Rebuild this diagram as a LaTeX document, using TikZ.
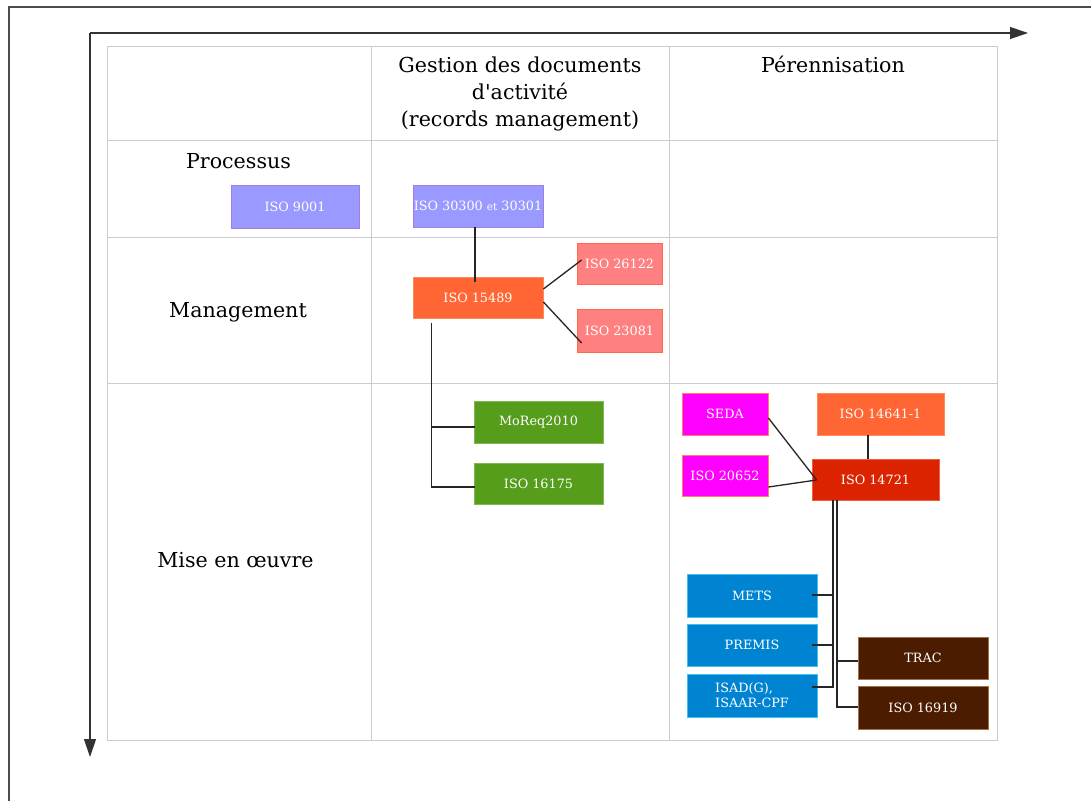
\documentclass[tikz,border=0pt]{standalone}
\usepackage{fontspec}
\setmainfont{DejaVu Serif}
\usetikzlibrary{arrows.meta,calc}
\definecolor{cviolet}{HTML}{9999FF}
\definecolor{cvioletb}{HTML}{A27EE0}
\definecolor{corange}{HTML}{FF6633}
\definecolor{corangeb}{HTML}{FF8A5C}
\definecolor{cpink}{HTML}{FF8080}
\definecolor{cpinkb}{HTML}{FF6A4A}
\definecolor{cgreen}{HTML}{579D1C}
\definecolor{cgreenb}{HTML}{80B850}
\definecolor{cmagenta}{HTML}{FF00FF}
\definecolor{cmagentab}{HTML}{FF8060}
\definecolor{cred}{HTML}{DC2300}
\definecolor{credb}{HTML}{F06040}
\definecolor{cblue}{HTML}{0084D1}
\definecolor{cblueb}{HTML}{40C0F0}
\definecolor{cbrown}{HTML}{4B1C00}
\definecolor{cbrownb}{HTML}{A0724A}
\definecolor{cgrid}{HTML}{CCCCCC}
\begin{document}
\begin{tikzpicture}[x=1pt,y=-1pt,
  bx/.style={draw, inner sep=0pt, text=white, font=\fontsize{12.8}{15}\selectfont, line width=0.8pt},
  violetbox/.style={bx, fill=cviolet, draw=cvioletb},
  orangebox/.style={bx, fill=corange, draw=corangeb},
  pinkbox/.style={bx, fill=cpink, draw=cpinkb},
  greenbox/.style={bx, fill=cgreen, draw=cgreenb},
  magentabox/.style={bx, fill=cmagenta, draw=cmagentab},
  redbox/.style={bx, fill=cred, draw=credb},
  bluebox/.style={bx, fill=cblue, draw=cblueb},
  brownbox/.style={bx, fill=cbrown, draw=cbrownb},
  conn/.style={draw=black!85, line width=1.3pt},
  lbl/.style={font=\fontsize{20.6}{24}\selectfont, inner sep=0pt, anchor=base},
  grid/.style={draw=cgrid, line width=1pt},
  axis/.style={draw=black!80, line width=1.2pt, -{Triangle[length=18pt,width=12pt]}}
]
\useasboundingbox (0,0) rectangle (1091,801);
\fill[white] (0,0) rectangle (1091,801);
% outer frame
\draw[draw=black!70, line width=1.2pt] (9,801) -- (9,7) -- (1091,7);
% axes
\coordinate (origin) at (90,33);
\coordinate (xend) at (1028,33);
\coordinate (yend) at (90,757);
\draw[axis] (origin) -- (xend);
\draw[axis] (origin) -- (yend);
% table grid
\draw[grid] (107,46) rectangle (997,740);
\draw[grid] (371,46) -- (371,740);
\draw[grid] (669,46) -- (669,740);
\draw[grid] (107,140) -- (997,140);
\draw[grid] (107,237) -- (997,237);
\draw[grid] (107,383) -- (997,383);
% headers
\node[lbl] (hA) at (520,72) {Gestion des documents};
\node[lbl] (hB) at (520,99) {d\textquotesingle activité};
\node[lbl] (hC) at (520,126) {(records management)};
\node[lbl] (hP) at (833,72) {Pérennisation};
\node[lbl] (rP) at (238.5,168) {Processus};
\node[lbl] (rM) at (238,317) {Management};
\node[lbl] (rO) at (235.5,567) {Mise en œuvre};
% boxes
\node[violetbox, minimum width=128pt, minimum height=43pt] (iso9001) at (295,206.5) {ISO 9001};
\node[violetbox, minimum width=130pt, minimum height=42pt] (iso30300) at (478,206) {ISO 30300 {\fontsize{10.5}{12}\selectfont et} 30301};
\node[orangebox, minimum width=130pt, minimum height=41pt] (iso15489) at (478,297.5) {ISO 15489};
\node[pinkbox, minimum width=85pt, minimum height=41pt] (iso26122) at (619.5,263.5) {ISO 26122};
\node[pinkbox, minimum width=85pt, minimum height=43pt] (iso23081) at (619.5,330.5) {ISO 23081};
\node[greenbox, minimum width=129pt, minimum height=42pt] (moreq) at (538.5,422) {MoReq2010};
\node[greenbox, minimum width=129pt, minimum height=41pt] (iso16175) at (538.5,483.5) {ISO 16175};
\node[magentabox, minimum width=86pt, minimum height=42pt] (seda) at (725,414) {SEDA};
\node[magentabox, minimum width=86pt, minimum height=41pt] (iso20652) at (725,475.5) {ISO 20652};
\node[orangebox, minimum width=127pt, minimum height=42pt] (iso14641) at (880.5,414) {ISO 14641-1};
\node[redbox, minimum width=127pt, minimum height=41pt] (iso14721) at (875.5,479.5) {ISO 14721};
\node[bluebox, minimum width=130pt, minimum height=43pt] (mets) at (752,595.5) {METS};
\node[bluebox, minimum width=130pt, minimum height=42pt] (premis) at (752,645) {PREMIS};
\node[bluebox, minimum width=130pt, minimum height=43pt, align=left] (isad) at (752,695.5) {ISAD(G),\\ISAAR-CPF};
\node[brownbox, minimum width=130pt, minimum height=42pt] (trac) at (923,658) {TRAC};
\node[brownbox, minimum width=130pt, minimum height=43pt] (iso16919) at (923,707.5) {ISO 16919};
% connectors
\draw[conn] ($(iso30300.south)+(-3,0)$) -- ($(iso15489.north)+(-3,5)$);
\draw[conn] ($(iso15489.east)+(0,-8.5)$) -- ($(iso26122.west)+(5,-3.5)$);
\draw[conn] ($(iso15489.east)+(0,4.5)$) -- ($(iso23081.west)+(5,12.5)$);
\coordinate (v1) at ($(iso15489.south west)+(19,5)$);
\coordinate (mw) at ($(moreq.west)+(1,5)$);
\draw[conn] (v1) |- ($(iso16175.west)+(1,3.5)$);
\draw[conn] (v1 |- mw) -- (mw);
\draw[conn] ($(seda.east)+(0,4)$) -- ($(iso14721.west)+(5,0.5)$);
\draw[conn] ($(iso20652.east)+(0,11.5)$) -- ($(iso14721.west)+(5,0.5)$);
\draw[conn] ($(iso14641.south)+(-12.5,0)$) -- ($(iso14721.north)+(-7.5,0)$);
\coordinate (va) at ($(iso14721.south)+(-42.5,0)$);
\coordinate (metsE) at ($(mets.east)+(-5,-0.5)$);
\coordinate (premisE) at ($(premis.east)+(-5,0)$);
\draw[conn] (va) |- ($(isad.east)+(-5,-8.5)$);
\draw[conn] (va |- metsE) -- (metsE);
\draw[conn] (va |- premisE) -- (premisE);
\coordinate (vb) at ($(iso14721.south)+(-38.5,0)$);
\coordinate (tracW) at ($(trac.west)+(0,3)$);
\draw[conn] (vb) |- ($(iso16919.west)+(0,-0.5)$);
\draw[conn] (vb |- tracW) -- (tracW);
\end{tikzpicture}
\end{document}
